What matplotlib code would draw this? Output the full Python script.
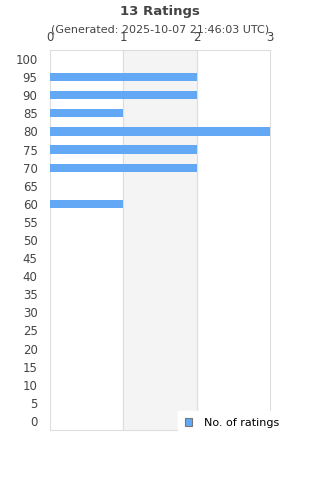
import matplotlib.pyplot as plt
from matplotlib.patches import Patch

ratings = [100, 95, 90, 85, 80, 75, 70, 65, 60, 55, 50, 45, 40, 35, 30, 25, 20, 15, 10, 5, 0]
counts = [0, 2, 2, 1, 3, 2, 2, 0, 1, 0, 0, 0, 0, 0, 0, 0, 0, 0, 0, 0, 0]
x_ticks = [0, 1, 2, 3]

bar_color = '#62a8f5'
grid_color = '#dddddd'
text_color = '#444444'

fig = plt.figure(figsize=(3.2, 4.8), dpi=100)
ax = fig.add_axes([50/320, 1 - 430/480, 220/320, 380/480])

labels = [str(r) for r in ratings]
ax.barh(labels, counts, height=0.45, color=bar_color, zorder=3)
ax.set_ylim(len(ratings) - 0.5, -0.5)
ax.set_xlim(0, 3)

# alternating band between 1 and 2
ax.axvspan(1, 2, color='#f4f4f4', zorder=0)
for xv in x_ticks[1:-1]:
    ax.axvline(xv, color=grid_color, linewidth=0.8, zorder=1)

ax.xaxis.tick_top()
ax.set_xticks(x_ticks)
ax.tick_params(axis='x', length=0, pad=4, labelsize=8.5, labelcolor=text_color)
ax.tick_params(axis='y', length=0, pad=9, labelsize=8.5, labelcolor=text_color)
for s in ax.spines.values():
    s.set_color(grid_color)
    s.set_linewidth(0.8)

fig.text(0.5, 1 - 11/480, '13 Ratings', ha='center', va='center',
         fontsize=9.5, fontweight='bold', color=text_color)
fig.text(0.5, 1 - 29/480, '(Generated: 2025-10-07 21:46:03 UTC)', ha='center',
         va='center', fontsize=8, color=text_color)

handle = Patch(facecolor=bar_color, edgecolor='#777777', linewidth=0.8)
leg = fig.legend([handle], ['No. of ratings'], loc='upper left',
                 bbox_to_anchor=(178/320, 1 - 411/480), frameon=True,
                 fontsize=8, handlelength=0.7, handleheight=0.7,
                 handletextpad=1.0, borderpad=0.6, borderaxespad=0,
                 fancybox=False)
leg.get_frame().set_edgecolor('white')
leg.get_frame().set_facecolor('white')
leg.get_frame().set_alpha(1)

plt.savefig('out.png', dpi=100)
